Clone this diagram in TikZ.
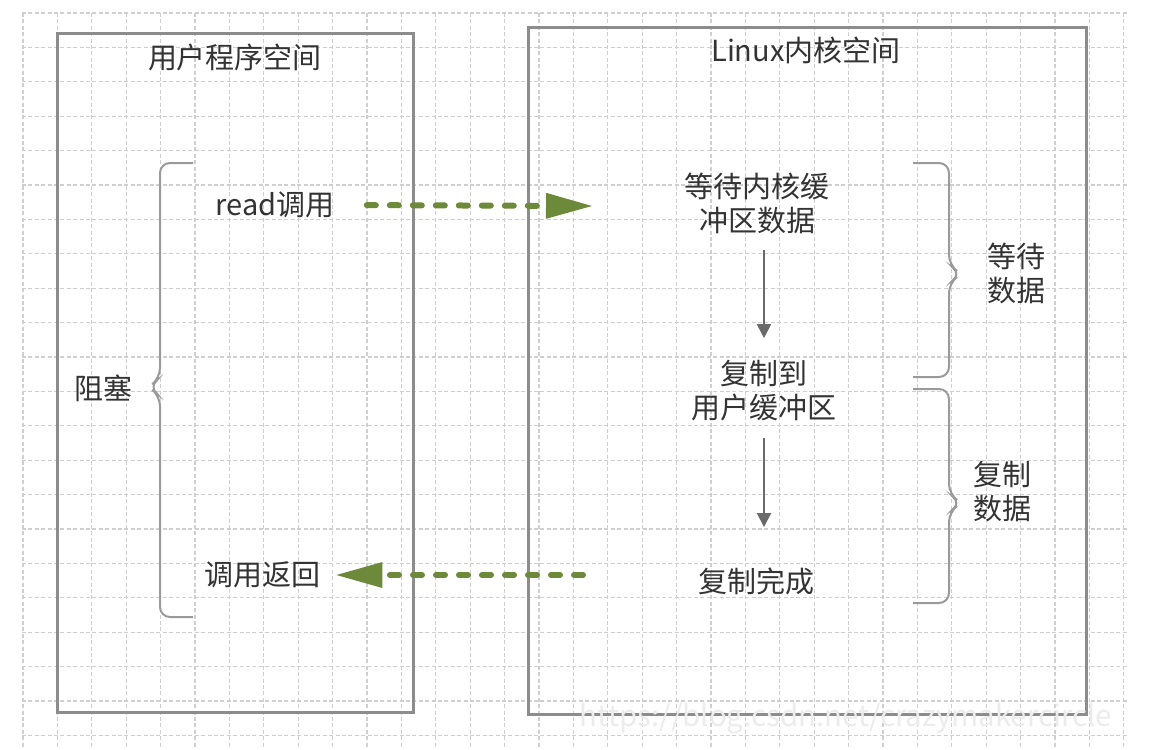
\documentclass[tikz,border=0pt]{standalone}
\usepackage{fontspec}
\setmainfont{Noto Sans CJK SC}
\usetikzlibrary{arrows.meta, positioning, calc}

\definecolor{boxgray}{HTML}{8C8C8C}
\definecolor{bracegray}{HTML}{9A9A9A}
\definecolor{arrowgray}{HTML}{6A6A6A}
\definecolor{textgray}{HTML}{333333}
\definecolor{callgreen}{HTML}{6D8A3A}

\tikzset{
  gridline/.style={draw=gray!38, line width=0.6pt, dash pattern=on 2pt off 1.2pt},
  spacebox/.style={draw=boxgray, line width=1.5pt},
  brace/.style={draw=bracegray, line width=1pt, rounded corners=5pt},
  label/.style={font=\fontsize{14.5}{17}\selectfont, text=textgray, inner sep=0pt, align=center},
  callarrow/.style={draw=callgreen, line width=3pt, line cap=round,
    dash pattern=on 4.5pt off 7pt, -{Triangle[length=23pt, width=13pt, fill=callgreen, line width=0pt]}},
  steparrow/.style={draw=arrowgray, line width=1pt, -{Triangle[length=7pt, width=7pt]}},
}

\begin{document}
\begin{tikzpicture}[x=0.5pt, y=-0.5pt]
    \useasboundingbox (0,0) rectangle (1158,750);
    \fill[white] (0,0) rectangle (1158,750);

    % 背景网格
    \foreach \i in {0,...,32}
      \draw[gridline] ({23+34.4*\i},13) -- ({23+34.4*\i},748);
    \foreach \j in {0,...,21}
      \draw[gridline] (22,{13+34.4*\j}) -- (1128,{13+34.4*\j});

    % 两个空间
    \draw[spacebox] (57,33) rectangle (413,712);
    \draw[spacebox] (528,27) rectangle (1086,714);
    \node[label] (user) at (235,57) {用户程序空间};
    \node[label] (kernel) at (806,50) {Linux内核空间};

    % 用户程序一侧
    \node[label] (read) at (275,205) {read调用};
    \node[label] (ret) at (262,575) {调用返回};
    \node[label] (block) at (104,388) {阻塞};
    \draw[brace] (193,163) -- (160,163) -- (160,378) -- (149,387) -- (160,396) -- (160,617) -- (193,617);

    % 内核一侧
    \node[label] (wait) at (757,203) {等待内核缓\\冲区数据};
    \node[label] (copy) at (764,391) {复制到\\用户缓冲区};
    \node[label] (done) at (756,581) {复制完成};
    \draw[steparrow, shorten <=8pt, shorten >=11pt] (wait.south -| copy) -- (copy.north);
    \draw[steparrow, shorten <=8pt, shorten >=20pt] (copy.south) -- (copy |- done.north);

    % 右侧两段
    \draw[brace] (913,163) -- (949,163) -- (949,265) -- (961,274) -- (949,283) -- (949,377) -- (913,377);
    \draw[brace] (913,389) -- (949,389) -- (949,494) -- (961,503) -- (949,512) -- (949,603) -- (913,603);
    \node[label] (waitdata) at (1016,273) {等待\\数据};
    \node[label] (copydata) at (1002,492) {复制\\数据};

    % 系统调用与返回
    \coordinate (callend) at (592,206);
    \coordinate (retstart) at (583,575);
    \draw[callarrow, shorten <=16pt] (read.east) -- (callend);
    \draw[callarrow, shorten >=8pt] (retstart) -- (ret.east);

    % 水印
    \node[font=\fontsize{14.7}{15}\selectfont, text=gray!15, inner sep=0pt] (mark) at (846,718) {https://blog.csdn.net/crazymakercircle};
  \end{tikzpicture}
\end{document}
